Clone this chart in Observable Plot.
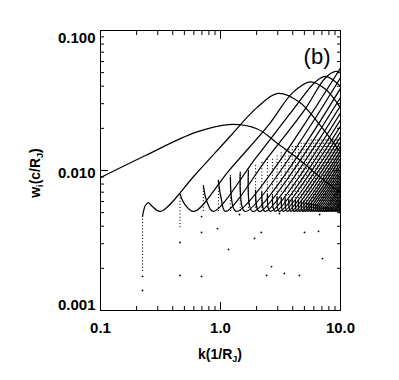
<!DOCTYPE html>
<html>
<head>
<meta charset="utf-8">
<script src="https://cdn.jsdelivr.net/npm/d3@7"></script>
<script src="https://cdn.jsdelivr.net/npm/@observablehq/plot@0.6"></script>
<style>
  html, body { margin: 0; padding: 0; background: #fff; }
  #chart { width: 399px; height: 380px; }
  svg { font-family: "Liberation Sans", Arial, sans-serif; }
</style>
</head>
<body>
<div id="chart"></div>
<script>
// ---- tick labels ----
const xTickValues = [0.1, 1, 10];
const xTickLabels = ["0.1", "1.0", "10.0"];
const yTickValues = [0.1, 0.01, 0.001];
const yTickLabels = ["0.100", "0.010", "0.001"];
const xMinorTicks = [0.2,0.3,0.4,0.5,0.6,0.7,0.8,0.9,2,3,4,5,6,7,8,9];
const yMinorTicks = [0.002,0.003,0.004,0.005,0.006,0.007,0.008,0.009,0.02,0.03,0.04,0.05,0.06,0.07,0.08,0.09];

// ---- well separated modes: [k, w_i] ----
const mode1 = [[0.1,0.0089],[0.237,0.0128],[0.62,0.0187],[1.17,0.0213],[2.03,0.0198],[2.99,0.0156],[4.64,0.0118],[6.8,0.0089],[10,0.0069]];
const mode2 = [[0.224,0.0047],[0.236,0.0056],[0.25,0.0059],[0.272,0.0055],[0.316,0.0051],[0.62,0.0094],[1.2,0.0175],[2.0,0.028],[3.0,0.0355],[4.5,0.031],[6.5,0.022],[10,0.0135]];
const mode3 = [[0.46,0.0068],[0.5,0.0058],[0.6,0.0051],[1.2,0.0102],[2.5,0.021],[4.0,0.036],[5.6,0.043],[7.5,0.038],[10,0.028]];
const mode4 = [[0.72,0.0078],[0.77,0.0060],[0.87,0.0051],[2.0,0.0125],[4.0,0.027],[6.2,0.043],[7.5,0.047],[10,0.040]];
const mode5 = [[0.96,0.0085],[1.01,0.0064],[1.1,0.0051],[2.5,0.0125],[5.0,0.027],[7.5,0.046],[9.1,0.051],[10,0.050]];

// ---- densely packed higher modes ----
const onsetK  = [1.21,1.46,1.71,1.96,2.21,2.46,2.71,2.96,3.21,3.46,3.71,3.96,4.21,4.46,4.71,4.96,5.21,5.46,5.71,5.96,6.21,6.46,6.71,6.96,7.21,7.46,7.71,7.96,8.21,8.46,8.71,8.96,9.21,9.46,9.71];
const startW  = [0.0090,0.0096,0.0100,0.0072,0.0070,0.0068,0.0066,0.0065,0.0064,0.0063,0.0062,0.0062,0.0061,0.0061,0.0060,0.0060,0.0059,0.0059,0.0058,0.0058,0.0057,0.0057,0.0056,0.0056,0.0055,0.0055,0.0055,0.0054,0.0054,0.0054,0.0053,0.0053,0.0053,0.0052,0.0052];
const spikeW  = [0.0092,0.0100,0.0105,0.0110,0.0115,0.0120,0.0125,0.0130,0.0135,0.0140,0.0145,0.0150,0.0152,0.0155,0.0158,0.0160,0.0162,0.0164,0.0165,0.0166,0.0167,0.0168,0.0168,0.0168,0.0168,0.0168,0.0168,0.0168,0.0168,0.0168,0.0168,0.0168,0.0168,0.0168,0.0168];
const troughK = [1.35,1.60,1.85,2.10,2.35,2.60,2.85,3.10,3.35,3.60,3.85,4.10,4.35,4.60,4.85,5.10,5.35,5.60,5.85,6.10,6.35,6.60,6.85,7.10,7.35,7.60,7.85,8.10,8.35,8.60,8.85,9.10,9.35,9.60,9.85];
const edgeW   = [0.054,0.046,0.0386,0.0332,0.0290,0.0257,0.0230,0.0208,0.0189,0.0174,0.0160,0.0149,0.0138,0.0130,0.0122,0.0114,0.0108,0.0102,0.0097,0.0092,0.0088,0.0084,0.0080,0.0077,0.0074,0.0071,0.0068,0.0066,0.0063,0.0061,0.0059,0.0057,0.0055,0.0054,0.0052];
const floorW = 0.0051;

// dotted onset columns for the first modes: [k, bottom w, top w]
const columns = [[0.224,0.0019,0.0047],[0.46,0.0039,0.0068],[0.72,0.0051,0.0078],[0.96,0.0051,0.0085]];
// isolated points below the main band
const strayPts = [[0.224,0.00139],[0.224,0.00175],[0.46,0.00178],[0.46,0.00306],
  [0.695,0.00469],[0.695,0.00361],[0.695,0.00175],[0.944,0.00385],[1.166,0.00273],
  [1.92,0.00327],[2.19,0.00361],[2.42,0.00178],[2.66,0.00206],[3.41,0.00184],
  [4.55,0.00178],[5.01,0.00361],[6.56,0.00368],[7.08,0.00235],[6.7,0.00485],
  [3.1,0.00493],[1.44,0.00485]];

// ---- build tables ----
const lines = [];
[mode1, mode2, mode3, mode4, mode5].forEach((m, i) => m.forEach(([k, w]) => lines.push({id: "m" + (i+1), k, w})));
onsetK.forEach((k0, i) => {
  const id = "d" + i;
  lines.push({id, k: k0, w: startW[i]});
  lines.push({id, k: troughK[i], w: floorW});
  lines.push({id, k: 10, w: edgeW[i]});
});
const cols = columns.map(([k, lo, hi]) => ({k, lo, hi}));
onsetK.forEach((k, i) => cols.push({k, lo: floorW, hi: spikeW[i]}));
const pts = strayPts.map(([k, w]) => ({k, w}));

const chart = Plot.plot({
  width: 399,
  height: 380,
  marginLeft: 100,
  marginRight: 59,
  marginTop: 30,
  marginBottom: 70,
  style: {background: "white", color: "black"},
  x: {type: "log", domain: [0.1, 10], axis: null},
  y: {type: "log", domain: [0.001, 0.1], axis: null},
  marks: [
    Plot.ruleX(cols, {x: "k", y1: "lo", y2: "hi", stroke: "black", strokeWidth: 1.1, strokeDasharray: "1,2.2"}),
    Plot.line(lines, {x: "k", y: "w", z: "id", stroke: "black", strokeWidth: 1.25, curve: "catmull-rom", clip: true}),
    Plot.dot(pts, {x: "k", y: "w", r: 0.9, fill: "black", stroke: null}),
    Plot.frame({stroke: "black", strokeWidth: 1}),
    Plot.axisX({anchor: "bottom", label: null, ticks: xTickValues, tickSize: -8, tickFormat: () => ""}),
    Plot.axisX({anchor: "bottom", label: null, ticks: xMinorTicks, tickSize: -4, tickFormat: () => ""}),
    Plot.axisX({anchor: "top", label: null, ticks: xTickValues, tickSize: -8, tickFormat: () => ""}),
    Plot.axisX({anchor: "top", label: null, ticks: xMinorTicks, tickSize: -4, tickFormat: () => ""}),
    Plot.axisY({anchor: "left", label: null, ticks: yTickValues, tickSize: -8, tickFormat: () => ""}),
    Plot.axisY({anchor: "left", label: null, ticks: yMinorTicks, tickSize: -4, tickFormat: () => ""}),
    Plot.axisY({anchor: "right", label: null, ticks: yTickValues, tickSize: -8, tickFormat: () => ""}),
    Plot.axisY({anchor: "right", label: null, ticks: yMinorTicks, tickSize: -4, tickFormat: () => ""}),
    Plot.text(xTickValues, {x: d => d, text: (d, i) => xTickLabels[i], frameAnchor: "bottom", dy: 22, fontSize: 15, fontWeight: "bold"}),
    Plot.text([yTickValues[0]], {y: d => d, text: () => yTickLabels[0], frameAnchor: "left", dx: -5, dy: 8, textAnchor: "end", fontSize: 15, fontWeight: "bold"}),
    Plot.text([yTickValues[1]], {y: d => d, text: () => yTickLabels[1], frameAnchor: "left", dx: -5, dy: 3, textAnchor: "end", fontSize: 15, fontWeight: "bold"}),
    Plot.text([yTickValues[2]], {y: d => d, text: () => yTickLabels[2], frameAnchor: "left", dx: -5, dy: -5, textAnchor: "end", fontSize: 15, fontWeight: "bold"}),
    Plot.text(["(b)"], {frameAnchor: "top-right", dx: -10, dy: 18, fontSize: 22, textAnchor: "end"})
  ]
});
document.getElementById("chart").appendChild(chart);

// axis titles with subscripts
const svg = d3.select(chart);
const xt = svg.append("text").attr("x", 220).attr("y", 359).attr("text-anchor", "middle")
  .attr("font-size", 14).attr("font-weight", "bold").attr("fill", "black");
xt.append("tspan").text("k(1/R");
xt.append("tspan").attr("font-size", 9).attr("dy", 3).text("J");
xt.append("tspan").attr("dy", -3).text(")");
const yt = svg.append("text").attr("transform", "translate(40,173) rotate(-90)").attr("text-anchor", "middle")
  .attr("font-size", 14).attr("font-weight", "bold").attr("fill", "black");
yt.append("tspan").text("w");
yt.append("tspan").attr("font-size", 9).attr("dy", 3).text("i");
yt.append("tspan").attr("dy", -3).text("(c/R");
yt.append("tspan").attr("font-size", 9).attr("dy", 3).text("J");
yt.append("tspan").attr("dy", -3).text(")");
</script>
</body>
</html>
